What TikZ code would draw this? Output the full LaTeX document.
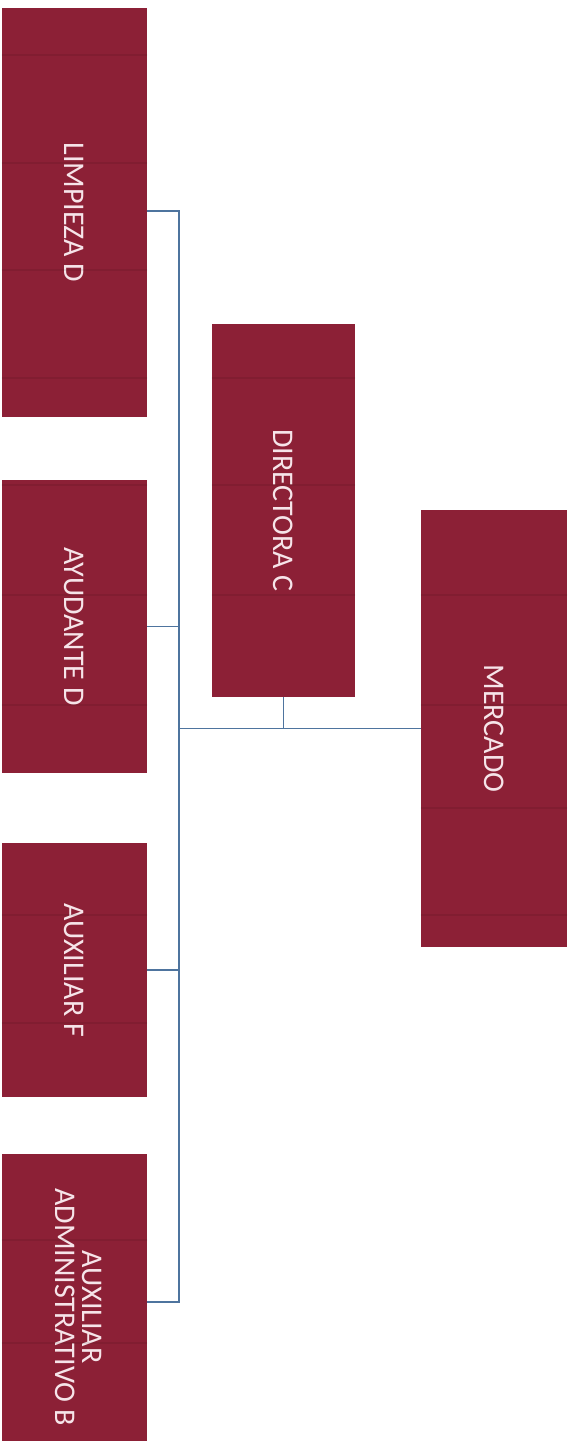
\documentclass[tikz,border=0pt]{standalone}
\usepackage{fontspec}
\setmainfont{Carlito}
\definecolor{boxred}{RGB}{140,32,54}
\definecolor{linkblue}{RGB}{78,116,158}
\definecolor{txtpink}{RGB}{246,228,233}
\tikzset{
  orgbox/.style={rectangle, fill=boxred, draw=none, inner sep=0pt,
    text=txtpink, font=\fontsize{30}{27}\selectfont},
  orglink/.style={draw=linkblue, line width=1.9pt},
  band/.style={draw=black, draw opacity=0.08, line width=1.6pt}
}
\begin{document}
\begin{tikzpicture}[x=1pt, y=-1pt]
\clip (0,0) rectangle (572,1441);
\fill[white] (0,0) rectangle (572,1441);
% boxes
\node[orgbox, minimum width=145pt, minimum height=409pt] (limp) at (74.5,212.5) {\rotatebox{-90}{LIMPIEZA D}};
\node[orgbox, minimum width=145pt, minimum height=293pt] (ayud) at (74.5,626.5) {\rotatebox{-90}{AYUDANTE D}};
\node[orgbox, minimum width=145pt, minimum height=254pt] (auxf) at (74.5,970) {\rotatebox{-90}{AUXILIAR F}};
\node[orgbox, minimum width=145pt, minimum height=306pt] (auxadm) at (74.5,1307) {\rotatebox{-90}{\begin{tabular}{@{}c@{}}AUXILIAR\\ADMINISTRATIVO B\end{tabular}}};
\node[orgbox, minimum width=143pt, minimum height=373pt] (dir) at (283.5,510.5) {\rotatebox{-90}{DIRECTORA C}};
\node[orgbox, minimum width=146pt, minimum height=437pt] (merc) at (494,728.5) {\rotatebox{-90}{MERCADO}};
% faint scan bands inside boxes
\begin{scope}
\clip (limp.north west) rectangle (limp.south east)
      (ayud.north west) rectangle (ayud.south east)
      (auxf.north west) rectangle (auxf.south east)
      (auxadm.north west) rectangle (auxadm.south east)
      (dir.north west) rectangle (dir.south east)
      (merc.north west) rectangle (merc.south east);
\foreach \yy in {55,163,270,378,485,595,705,808,915,1023,1130,1240,1343}
  \draw[band] (0,\yy) -- (572,\yy);
\end{scope}
% connectors
\coordinate (ttop) at (179,211);
\coordinate (tbot) at (179,1302);
\coordinate (jn) at (179,728.5);
\draw[orglink] (limp.east |- ttop) -- (ttop) -- (tbot) -- (auxadm.east |- tbot);
\draw[orglink] (ayud.east) -- (ayud.east -| ttop);
\draw[orglink] (auxf.east) -- (auxf.east -| ttop);
\draw[orglink] (dir.south) -- (dir.south |- jn);
\draw[orglink] (jn) -- (merc.west);
\end{tikzpicture}
\end{document}
